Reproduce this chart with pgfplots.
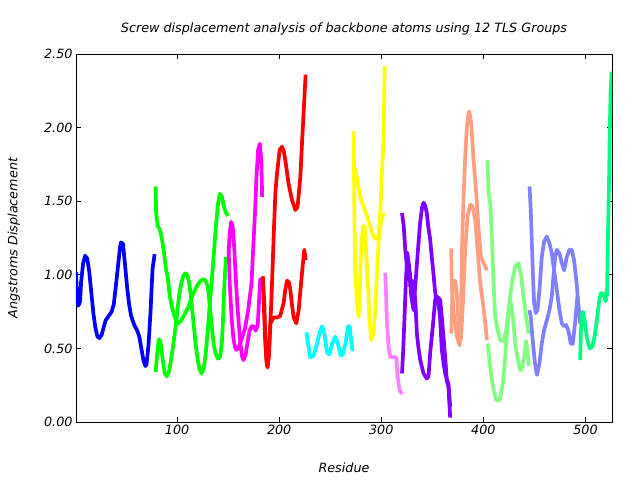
\documentclass[border=0pt]{standalone}
\usepackage{fontspec}
\setmainfont{DejaVu Sans}
\usepackage{pgfplots}
\pgfplotsset{compat=1.18}
\definecolor{cBlue}{HTML}{0000FF}
\definecolor{cGreen}{HTML}{00FF00}
\definecolor{cMag}{HTML}{FF00FF}
\definecolor{cRed}{HTML}{FF0000}
\definecolor{cCyan}{HTML}{00FFFF}
\definecolor{cYel}{HTML}{FFFF00}
\definecolor{cPink}{HTML}{FF80FF}
\definecolor{cPurp}{HTML}{8000FF}
\definecolor{cSalm}{HTML}{FF9F80}
\definecolor{cLGrn}{HTML}{80FF80}
\definecolor{cLBlu}{HTML}{8080FF}
\definecolor{cSpr}{HTML}{00FF80}
\newcommand{\lf}{\itshape\fontsize{12.8}{15}\selectfont}
\begin{document}
\begin{tikzpicture}
\useasboundingbox (-76bp,-58bp) rectangle (564bp,422bp);
\begin{axis}[
  at={(0,0)}, anchor=south west,
  scale only axis, width=536bp, height=368bp,
  xmin=1, xmax=526, ymin=0, ymax=2.5,
  xtick={100,200,300,400,500},
  ytick={0,0.5,1,1.5,2,2.5},
  tick align=inside, xtick pos=both, ytick pos=both,
  major tick length=5bp,
  tick style={black, line width=0.8bp},
  axis line style={line width=0.8bp},
  /pgf/number format/assume math mode=true,
  yticklabel style={/pgf/number format/fixed, /pgf/number format/fixed zerofill, /pgf/number format/precision=2, font=\lf},
  xticklabel style={font=\lf},
  title={Screw displacement analysis of backbone atoms using 12 TLS Groups},
  title style={font=\lf, at={(0.5,1.0435)}, anchor=base},
  xlabel={Residue}, xlabel style={font=\lf, at={(0.5,-0.1359)}, anchor=base},
  ylabel={Angstroms Displacement}, ylabel style={font=\lf, at={(-0.1157,0.5)}, anchor=center},
  every axis plot/.append style={line width=3.7bp, line join=round, mark=none},
]
% group 1
\addplot[cBlue] coordinates {(1,1.02) (2,0.86) (3,0.79) (4,0.80) (5,0.82) (6,0.95) (8,1.08) (10,1.13) (12,1.11) (14,1.02) (16,0.88) (18,0.74) (20,0.64) (22,0.58) (24,0.57) (26,0.59) (28,0.64) (30,0.69) (33,0.72) (36,0.75) (38,0.80) (40,0.92) (42,1.05) (44,1.18) (45,1.22) (47,1.21) (49,1.07) (51,0.92) (53,0.80) (55,0.72) (58,0.66) (61,0.62) (63,0.58) (65,0.50) (67,0.42) (69,0.38) (70,0.39) (72,0.52) (74,0.75) (75,0.90) (76,1.04) (78,1.14)};
% group 2
\addplot[cGreen] coordinates {(79,1.60) (79.5,1.42) (81,1.33) (83,1.31) (85,1.25) (87,1.16) (89,1.05) (91,0.97) (93,0.85) (95,0.78) (97,0.73) (99,0.69) (101,0.67) (103,0.68) (105,0.70) (108,0.74) (111,0.78) (114,0.84) (117,0.89) (120,0.93) (123,0.96) (126,0.97) (128,0.96) (130,0.92) (132,0.80) (134,0.65) (136,0.52) (138,0.46) (140,0.43) (142,0.44) (144,0.55) (145,0.70) (146,0.88) (147,1.02) (148,1.12)};
\addplot[cGreen] coordinates {(79,0.34) (80,0.42) (81,0.50) (82,0.56) (83,0.56) (84,0.53) (86,0.42) (88,0.33) (90,0.31) (92,0.34) (94,0.42) (96,0.51) (98,0.62) (100,0.73) (102,0.86) (104,0.94) (106,0.99) (108,1.01) (110,1.00) (112,0.94) (114,0.82) (116,0.68) (118,0.54) (120,0.43) (122,0.36) (124,0.33) (126,0.36) (128,0.46) (130,0.62) (132,0.80) (134,0.96) (136,1.14) (138,1.33) (140,1.48) (142,1.55) (144,1.53) (146,1.46) (148,1.42) (150,1.40)};
% group 3
\addplot[cMag] coordinates {(150.5,1.15) (151.5,1.28) (153,1.36) (154.5,1.33) (156,1.18) (157.5,0.98) (159,0.80) (160.5,0.66) (162,0.54) (163.5,0.45) (165,0.42) (167,0.45) (169,0.54) (171,0.62) (173,0.65) (175,0.65) (177,0.62) (179,0.66) (180.5,0.85) (181.5,0.97) (183,0.96)};
\addplot[cMag] coordinates {(150.5,1.17) (151.6,0.94) (153.3,0.72) (155,0.58) (156.6,0.51) (158,0.49) (160,0.50) (163,0.56) (166.4,0.63) (169.6,0.76) (172.9,0.94) (174.5,1.17) (176.2,1.40) (177.8,1.67) (179.4,1.85) (181.1,1.89) (182,1.82) (182.7,1.74) (183.3,1.53)};
% group 4
\addplot[cRed] coordinates {(184,0.99) (185.5,0.80) (186.5,0.55) (188,0.38) (189.5,0.45) (191.4,0.67) (194.6,0.71) (197.9,0.71) (201,0.72) (204.4,0.81) (206,0.90) (207.7,0.96) (209.5,0.95) (210.9,0.90) (212.5,0.80) (214.2,0.71) (216.8,0.67) (219.1,0.76) (221.4,0.94) (223.3,1.08) (224.6,1.17) (226,1.10)};
\addplot[cRed] coordinates {(184,0.97) (186,0.60) (187.5,0.42) (188.7,0.37) (190,0.45) (191.3,0.65) (193,0.94) (194.6,1.26) (196.3,1.56) (197.9,1.69) (200.5,1.85) (202.8,1.87) (204.5,1.84) (206,1.78) (209.2,1.62) (212.5,1.51) (215.8,1.44) (218,1.46) (220.8,1.67) (222.4,1.90) (224.1,2.12) (225.9,2.36)};
% group 5
\addplot[cCyan] coordinates {(226.6,0.61) (228.8,0.51) (230.5,0.44) (233.7,0.45) (237,0.53) (240.3,0.625) (242,0.65) (244.6,0.59) (246.9,0.47) (249.2,0.46) (251.8,0.53) (255,0.58) (257.6,0.53) (259.9,0.455) (262.2,0.455) (264.8,0.53) (267.4,0.65) (269,0.65) (271.3,0.51) (272,0.48)};
% group 6
\addplot[cYel] coordinates {(272.9,1.975) (273.8,1.35) (274.5,1.03) (276,0.83) (277.8,0.715) (278.8,0.88) (280.1,1.15) (282.1,1.33) (283.7,1.33) (285,1.19) (287,0.92) (288.3,0.715) (290.2,0.556) (292.5,0.60) (294.1,0.76) (295.8,1.01) (297.4,1.215) (299,1.42) (300.6,1.69) (302.3,1.92) (303.3,2.42)};
\addplot[cYel] coordinates {(272.9,1.73) (274,1.72) (276.2,1.65) (279.4,1.53) (282.7,1.465) (286,1.40) (289.2,1.33) (292.5,1.26) (295.8,1.24) (298,1.28) (300,1.37) (302.3,1.42)};
% group 7
\addplot[cPink] coordinates {(303.9,1.015) (304.5,0.90) (305.5,0.69) (307.2,0.51) (308.8,0.44) (312,0.44) (314.7,0.44) (316,0.31) (318,0.216) (320.3,0.19)};
% group 8
\addplot[cPurp] coordinates {(320.3,1.42) (322,1.33) (323.5,1.17) (325.1,1.06) (326.8,0.97) (328,1.02) (329,0.88) (330,0.83) (331.6,0.76) (333,0.90) (334.8,1.06) (336.5,1.22) (338,1.35) (340,1.46) (341.4,1.49) (343,1.47) (344.6,1.42) (346,1.33) (347.9,1.24) (349.5,1.12) (351.1,1.01) (352.5,0.90) (353.8,0.83) (355,0.82) (356,0.80) (357.5,0.72) (359.3,0.49) (361,0.40) (362.6,0.33) (364.2,0.29) (365.8,0.26) (367.5,0.10)};
\addplot[cPurp] coordinates {(320.3,0.33) (321.5,0.49) (322.8,0.715) (324,0.94) (325.5,1.15) (326.5,1.10) (327.3,1.06) (328.5,0.92) (329,0.95) (330.3,0.96) (331.6,0.92) (333.3,0.83) (334.9,0.60) (336.5,0.50) (338.2,0.42) (341.4,0.33) (344.6,0.295) (346.3,0.31) (347.9,0.47) (350.5,0.65) (352.8,0.83) (355.1,0.85) (357.7,0.83) (359.6,0.69) (362.6,0.44) (364.2,0.28) (365.8,0.24) (367.5,0.03)};
% group 9
\addplot[cSalm] coordinates {(368.5,1.18) (369,0.94) (370.6,0.76) (372.5,0.66) (374.1,0.58) (376.7,0.52) (378,0.65) (379,1.17) (380.6,1.53) (382.2,1.80) (383.9,2.01) (385.5,2.10) (386.2,2.11) (388.1,2.03) (390.4,1.78) (393,1.556) (395.3,1.31) (397.6,1.12) (399.6,1.09) (401.9,1.056) (403.5,1.03)};
\addplot[cSalm] coordinates {(368.5,0.60) (370,0.94) (372.4,0.96) (374,0.875) (376.4,0.58) (378,0.56) (380,0.81) (382.2,1.17) (384.5,1.40) (387.1,1.476) (389.4,1.465) (392,1.37) (394.3,1.17) (396.9,0.94) (399.5,0.81) (401.9,0.67) (403.5,0.556)};
% group 10
\addplot[cLGrn] coordinates {(404.1,1.78) (405,1.556) (406.7,1.49) (408.3,1.26) (410,0.94) (411.6,0.715) (413.9,0.625) (416.5,0.556) (419.8,0.55) (422.4,0.625) (424.6,0.76) (427.9,0.94) (431.1,1.056) (434.4,1.08) (437,0.99) (439.3,0.85) (441.9,0.715) (444.2,0.60)};
\addplot[cLGrn] coordinates {(404.1,0.534) (406.7,0.375) (409.4,0.24) (412.6,0.148) (415.9,0.148) (419.1,0.26) (421.4,0.44) (423.7,0.67) (425.6,0.78) (427.2,0.81) (429.6,0.67) (431.1,0.534) (433.8,0.42) (436,0.35) (437.6,0.36) (440,0.44) (441.9,0.55) (443.2,0.48) (444.5,0.38)};
% group 11
\addplot[cLBlu] coordinates {(445.2,1.60) (446.4,1.44) (447.3,1.26) (448.6,0.99) (449.7,0.81) (451.4,0.74) (453,0.76) (455,0.90) (457.2,1.12) (459.5,1.226) (462.1,1.26) (464.7,1.215) (467,1.147) (469.3,1.03) (471.9,0.90) (474.5,0.76) (476.8,0.67) (479.1,0.65) (481,0.66) (483.3,0.62) (485.6,0.534) (487.5,0.53) (489.8,0.67) (492.1,0.85) (494,0.73) (495.4,0.69)};
\addplot[cLBlu] coordinates {(445.2,0.76) (446.4,0.715) (448.6,0.534) (450.5,0.40) (452.5,0.32) (455,0.40) (457.2,0.534) (459.5,0.625) (462.1,0.69) (464.7,0.76) (467,0.85) (468.6,0.99) (470.3,1.12) (471.9,1.17) (474.5,1.147) (476.8,1.08) (479.1,1.03) (481.7,1.12) (484.3,1.17) (486.6,1.17) (488.8,1.10) (491.4,0.94) (493.4,0.76) (494.7,0.67)};
% group 12
\addplot[cSpr] coordinates {(494.8,0.42) (495.5,0.61) (496.4,0.727) (497.6,0.75) (499.3,0.68) (501.5,0.57) (504.2,0.50) (506.8,0.51) (509.1,0.59) (511.4,0.70) (513.3,0.82) (514.9,0.875) (517.2,0.875) (519.8,0.82) (521.1,0.87) (522.1,1.29) (523,1.59) (523.7,1.93) (524.6,2.23) (525.6,2.38)};
\end{axis}
\end{tikzpicture}
\end{document}
